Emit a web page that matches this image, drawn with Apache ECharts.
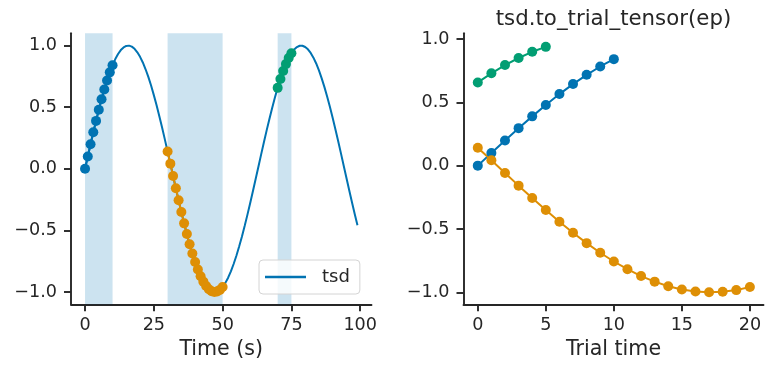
<!DOCTYPE html>
<html>
<head>
<meta charset="utf-8">
<script src="https://cdn.jsdelivr.net/npm/echarts@6/dist/echarts.min.js"></script>
<style>
html,body{margin:0;padding:0;background:#fff;}
#c{width:773px;height:373px;}
</style>
</head>
<body>
<div id="c"></div>
<script>
// tsd sampled every 1 s, t = 0 .. 99
const tsdValues = [
  0.000, 0.100, 0.199, 0.296, 0.389, 0.479, 0.565, 0.644, 0.717, 0.783,
  0.841, 0.891, 0.932, 0.964, 0.985, 0.997, 1.000, 0.992, 0.974, 0.946,
  0.909, 0.863, 0.808, 0.746, 0.676, 0.598, 0.516, 0.427, 0.335, 0.239,
  0.141, 0.042, -0.058, -0.158, -0.256, -0.351, -0.443, -0.530, -0.612, -0.688,
  -0.757, -0.818, -0.872, -0.916, -0.952, -0.978, -0.994, -1.000, -0.996, -0.983,
  -0.959, -0.926, -0.884, -0.832, -0.773, -0.706, -0.631, -0.551, -0.465, -0.374,
  -0.279, -0.182, -0.083, 0.017, 0.117, 0.215, 0.312, 0.405, 0.494, 0.578,
  0.657, 0.729, 0.794, 0.850, 0.899, 0.938, 0.968, 0.988, 0.999, 0.999,
  0.989, 0.970, 0.941, 0.902, 0.855, 0.799, 0.734, 0.663, 0.585, 0.501,
  0.412, 0.319, 0.223, 0.125, 0.025, -0.075, -0.174, -0.272, -0.367, -0.458
];
// epochs (ep)
const epStarts = [0, 30, 70];
const epEnds = [10, 50, 75];
// trial tensor rows (tsd restricted to each epoch)
const trial1 = [0.000, 0.100, 0.199, 0.296, 0.389, 0.479, 0.565, 0.644, 0.717, 0.783, 0.841];
const trial2 = [0.141, 0.042, -0.058, -0.158, -0.256, -0.351, -0.443, -0.530, -0.612, -0.688,
                -0.757, -0.818, -0.872, -0.916, -0.952, -0.978, -0.994, -1.000, -0.996, -0.983, -0.959];
const trial3 = [0.657, 0.729, 0.794, 0.850, 0.899, 0.938];
const trials = [trial1, trial2, trial3];
// ticks
const leftXTicks = [0, 25, 50, 75, 100];
const rightXTicks = [0, 5, 10, 15, 20];
const yTicks = [-1.0, -0.5, 0.0, 0.5, 1.0];

const colors = ['#0173b2', '#de8f05', '#029e73'];
const ink = '#262626';
const FONT = 'DejaVu Sans';

const fmtY = v => (v < 0 ? '\u2212' : '') + Math.abs(v).toFixed(1);

function xAxisCfg(gridIndex, min, max, ticks, name) {
  return {
    type: 'value', gridIndex, min, max,
    axisLine: {show: true, onZero: false, lineStyle: {color: ink, width: 1.9}},
    axisTick: {show: true, length: 7, lineStyle: {color: ink, width: 1.9}, customValues: ticks},
    axisLabel: {customValues: ticks, color: ink, fontSize: 17.6, fontFamily: FONT, margin: 12,
                formatter: v => String(v)},
    splitLine: {show: false},
    name, nameLocation: 'middle', nameGap: 35,
    nameTextStyle: {color: ink, fontSize: 20.6, fontFamily: FONT}
  };
}
function yAxisCfg(gridIndex, min, max) {
  return {
    type: 'value', gridIndex, min, max,
    axisLine: {show: true, onZero: false, lineStyle: {color: ink, width: 1.9}},
    axisTick: {show: true, length: 7, lineStyle: {color: ink, width: 1.9}, customValues: yTicks},
    axisLabel: {customValues: yTicks, color: ink, fontSize: 17.6, fontFamily: FONT, margin: 14,
                formatter: fmtY},
    splitLine: {show: false}
  };
}

const series = [];
series.push({
  name: 'tsd', type: 'line', xAxisIndex: 0, yAxisIndex: 0,
  data: tsdValues.map((v, i) => [i, v]),
  showSymbol: false, lineStyle: {color: colors[0], width: 2}, itemStyle: {color: colors[0]},
  z: 3,
  markArea: {
    silent: true,
    itemStyle: {color: 'rgba(1,115,178,0.2)'},
    data: epStarts.map((s, k) => [{xAxis: s}, {xAxis: epEnds[k]}])
  }
});
trials.forEach((tr, k) => {
  series.push({
    name: 'ep' + k, type: 'line', xAxisIndex: 0, yAxisIndex: 0,
    data: tr.map((v, i) => [epStarts[k] + i, v]),
    symbol: 'circle', symbolSize: 10, showSymbol: true,
    lineStyle: {color: colors[k], width: 2}, itemStyle: {color: colors[k]}, z: 4
  });
  series.push({
    name: 'trial' + k, type: 'line', xAxisIndex: 1, yAxisIndex: 1,
    data: tr.map((v, i) => [i, v]),
    symbol: 'circle', symbolSize: 10, showSymbol: true,
    lineStyle: {color: colors[k], width: 2}, itemStyle: {color: colors[k]}, z: 4
  });
});

const chart = echarts.init(document.getElementById('c'), null, {renderer: 'canvas'});
chart.setOption({
  animation: false,
  backgroundColor: '#fff',
  textStyle: {fontFamily: FONT},
  title: {
    text: 'tsd.to_trial_tensor(ep)', left: 613.5, top: 8.5, textAlign: 'center', padding: 0,
    textStyle: {color: ink, fontSize: 21.3, fontWeight: 'normal', fontFamily: FONT}
  },
  legend: {
    data: [{name: 'tsd', icon: 'rect'}],
    left: 259, top: 260, orient: 'vertical',
    padding: [8, 10, 8, 6],
    itemWidth: 41, itemHeight: 2.5,
    backgroundColor: 'rgba(255,255,255,0.8)',
    borderColor: '#d4d4d4', borderWidth: 1, borderRadius: 4,
    textStyle: {color: ink, fontSize: 18, fontFamily: FONT, padding: [0, 0, 0, 11]},
    selectedMode: false
  },
  grid: [
    {left: 71, top: 33.3, width: 300.5, height: 271},
    {left: 463.5, top: 33.3, width: 300, height: 271}
  ],
  xAxis: [
    xAxisCfg(0, -5.1, 104.1, leftXTicks, 'Time (s)'),
    xAxisCfg(1, -1.05, 21.0, rightXTicks, 'Trial time')
  ],
  yAxis: [
    yAxisCfg(0, -1.1, 1.1),
    yAxisCfg(1, -1.095, 1.045)
  ],
  series
});
</script>
</body>
</html>
